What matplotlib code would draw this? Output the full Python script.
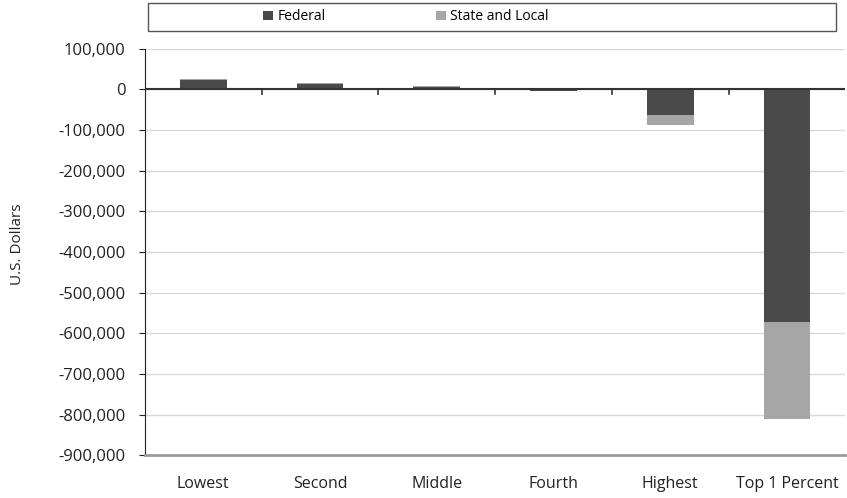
import numpy as np
import matplotlib
matplotlib.use("Agg")
import matplotlib.pyplot as plt
from matplotlib.patches import Rectangle
from matplotlib.ticker import FuncFormatter

plt.rcParams['font.family'] = ['Open Sans', 'DejaVu Sans']

categories = ['Lowest', 'Second', 'Middle', 'Fourth', 'Highest', 'Top 1 Percent']
federal = [23000, 14000, 7000, -3000, -64000, -572000]
state_local = [3000, 2000, 1000, -1000, -23000, -239000]

fed_color = '#4a4a4a'
sl_color = '#a6a6a6'

fig = plt.figure(figsize=(8.47, 4.98), dpi=100)
ax = fig.add_axes([0.171, 0.086, 0.827, 0.816])

x = np.arange(len(categories))
federal = np.array(federal)
state_local = np.array(state_local)

ax.bar(x, federal, width=0.4, color=fed_color, label='Federal', zorder=3)
ax.bar(x, state_local, width=0.4, bottom=federal, color=sl_color,
       label='State and Local', zorder=3)

ax.set_xlim(-0.5, len(categories) - 0.5)
ax.set_ylim(-900000, 100000)
ax.set_yticks(np.arange(-900000, 100001, 100000))
ax.yaxis.set_major_formatter(FuncFormatter(lambda v, p: f'{int(v):,}'))
ax.grid(axis='y', color='#d9d9d9', linewidth=1, zorder=0)

# zero line with category separators
ax.axhline(0, color='#333333', linewidth=1.5, zorder=4)
for b in np.arange(0.5, len(categories) - 0.5, 1):
    ax.plot([b, b], [0, -12000], color='#333333', linewidth=1.2, zorder=4)

ax.set_xticks(x)
ax.set_xticklabels(categories)
ax.tick_params(axis='x', length=0, pad=15, labelsize=11.5, labelcolor='#222222')
ax.tick_params(axis='y', length=4, pad=10, labelsize=12, color='#222222',
               labelcolor='#222222')

for s in ['top', 'right']:
    ax.spines[s].set_visible(False)
ax.spines['left'].set_color('#222222')
ax.spines['bottom'].set_color('#9a9a9a')
ax.spines['bottom'].set_linewidth(2)

ax.set_ylabel('U.S. Dollars', fontsize=11, color='#222222')
ax.yaxis.set_label_coords(-0.171, 0.52)

# legend box
fig.patches.append(Rectangle((148 / 847, 1 - 31 / 498), (836 - 148) / 847, 28 / 498,
                             transform=fig.transFigure, fill=False,
                             edgecolor='#555555', linewidth=1))
fig.legend(loc='center', bbox_to_anchor=(406 / 847, 1 - 17 / 498), ncol=2,
           frameon=False, fontsize=10, handlelength=0.7, handleheight=0.7,
           handletextpad=0.3, columnspacing=8)

fig.savefig('out.png', dpi=100)
